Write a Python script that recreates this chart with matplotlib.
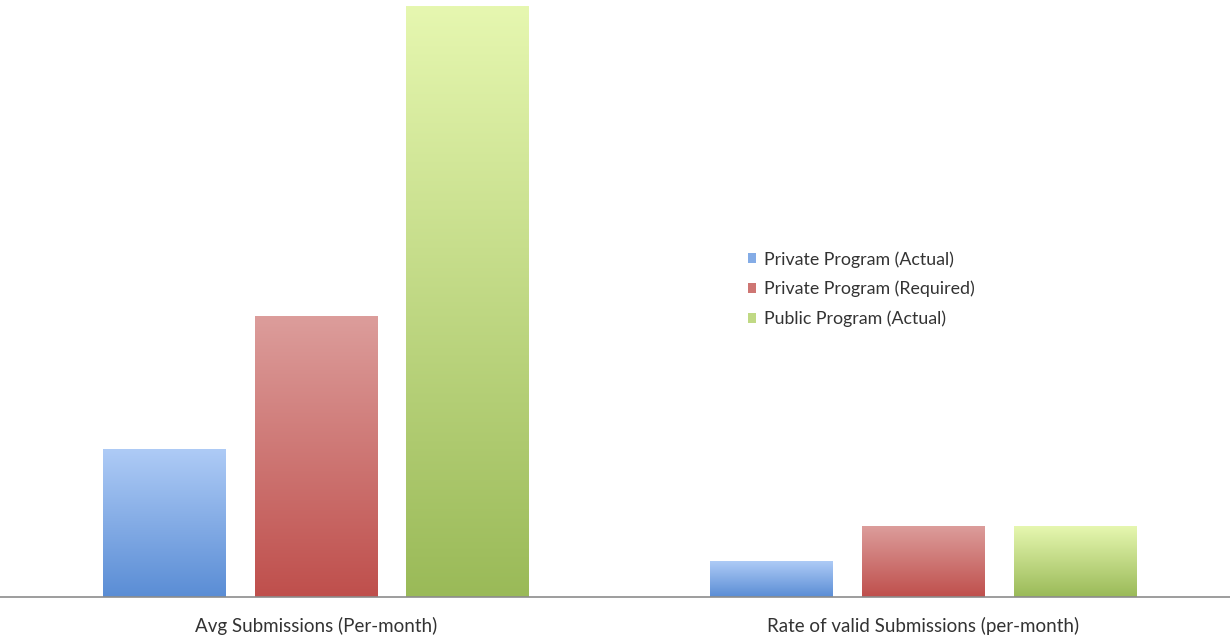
import numpy as np
import matplotlib.pyplot as plt
from matplotlib.colors import LinearSegmentedColormap, to_rgb
from matplotlib.patches import Patch

categories = ["Avg Submissions (Per-month)", "Rate of valid Submissions (per-month)"]
series = ["Private Program (Actual)", "Private Program (Required)", "Public Program (Actual)"]
private_actual = [25, 6]
private_required = [47.5, 12]
public_actual = [100, 12]

# (bottom colour, top colour) of each bar gradient
grads = [("#5a8dd5", "#aecbf6"), ("#bf4f4c", "#dc9d9b"), ("#9aba58", "#e6f7b0")]

plt.rcParams['font.family'] = ['Lato', 'DejaVu Sans']

fig = plt.figure(figsize=(12.3, 6.36), dpi=100)
ax = fig.add_axes([0, 39 / 636, 1, 591 / 636])

x = np.arange(len(categories))
width = 0.201
step = 0.25
values = [private_actual, private_required, public_actual]

for i, (vals, (c0, c1)) in enumerate(zip(values, grads)):
    cmap = LinearSegmentedColormap.from_list("g%d" % i, [c0, c1])
    bars = ax.bar(x + (i - 1) * step, vals, width, color="none", edgecolor="none")
    for b in bars:
        x0, w, h = b.get_x(), b.get_width(), b.get_height()
        grad = np.linspace(0, 1, 256).reshape(-1, 1)
        ax.imshow(grad, extent=[x0, x0 + w, 0, h], origin="lower", aspect="auto",
                  cmap=cmap, vmin=0, vmax=1, zorder=2, interpolation="bilinear")

ax.set_xlim(-0.52, 1.506)
ax.set_ylim(0, 100)

for s in ["top", "right", "left"]:
    ax.spines[s].set_visible(False)
ax.spines["bottom"].set_color("#8c8c8c")
ax.spines["bottom"].set_linewidth(1.2)
ax.set_yticks([])
ax.set_xticks(x)
ax.set_xticklabels(categories, fontsize=13.5, color="#333333")
ax.tick_params(axis="x", length=0, pad=14)

handles = [Patch(facecolor=(np.array(to_rgb(c0)) + np.array(to_rgb(c1))) / 2) for c0, c1 in grads]
leg = ax.legend(handles, series, loc="upper left", bbox_to_anchor=(748 / 1230, 1 - (251 - 6) / 591),
                frameon=False, fontsize=12.8, handlelength=0.45, handleheight=0.45,
                handletextpad=0.45, labelspacing=0.75, borderaxespad=0, borderpad=0)
for t in leg.get_texts():
    t.set_color("#333333")

fig.savefig("out.png", dpi=100, facecolor="white")
